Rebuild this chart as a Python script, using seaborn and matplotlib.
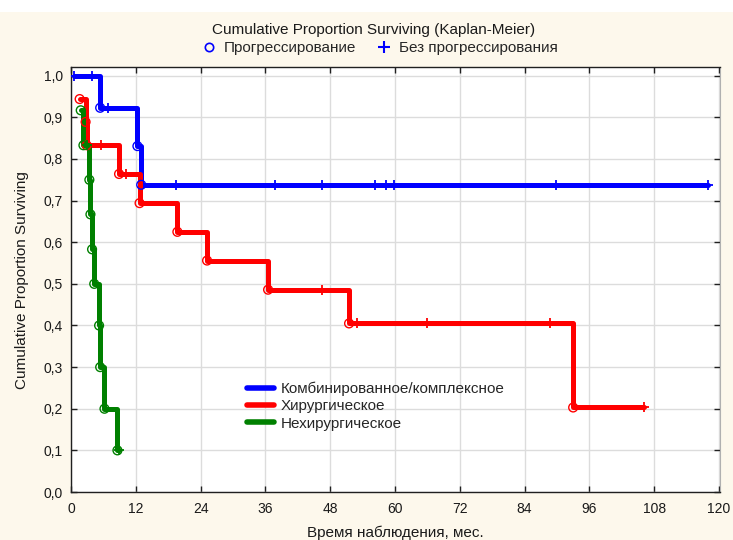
import matplotlib
matplotlib.use("Agg")
import matplotlib.pyplot as plt
import numpy as np
import pandas as pd
import seaborn as sns
from matplotlib.lines import Line2D
from matplotlib.patches import Rectangle
from matplotlib.ticker import FuncFormatter, MultipleLocator

# --------------------------------------------------------------------------
# Data
# --------------------------------------------------------------------------
groups = ["Комбинированное/комплексное", "Хирургическое", "Нехирургическое"]
colors = ["#0000ff", "#ff0000", "#008000"]

# event times (progression) and survival after each event
blue_events = [5.4, 12.3, 13.0]
blue_surv = [0.923, 0.831, 0.738]
blue_cens = [0.5, 3.9, 6.8, 19.5, 37.7, 46.5, 56.3, 58.3, 59.9, 89.8, 117.9]

red_events = [1.6, 2.7, 2.9, 8.9, 12.7, 19.7, 25.2, 36.5, 51.5, 93.0]
red_surv = [0.944, 0.889, 0.833, 0.764, 0.694, 0.625, 0.556, 0.486, 0.405, 0.203]
red_cens = [5.5, 10.1, 46.5, 53.0, 66.0, 88.8, 106.2]

green_events = [1.8, 2.3, 3.4, 3.6, 3.9, 4.3, 5.2, 5.4, 6.2, 8.6]
green_surv = [0.917, 0.833, 0.75, 0.667, 0.583, 0.5, 0.4, 0.3, 0.2, 0.1]
green_cens = [3.0, 8.9]

x_ticks = [0, 12, 24, 36, 48, 60, 72, 84, 96, 108, 120]

title = "Cumulative Proportion Surviving (Kaplan-Meier)"
ylabel = "Cumulative Proportion Surviving"
xlabel = "Время наблюдения, мес."
mark_labels = ["Прогрессирование", "Без прогрессирования"]

series = [
    (groups[0], blue_events, blue_surv, blue_cens),
    (groups[1], red_events, red_surv, red_cens),
    (groups[2], green_events, green_surv, green_cens),
]


def surv_at(t, events, surv):
    idx = np.searchsorted(events, t, side="right") - 1
    return 1.0 if idx < 0 else surv[idx]


steps, evts, cens = [], [], []
for name, ev, sv, cs in series:
    start = min(ev[0], cs[0])
    end = max(ev[-1], cs[-1])
    xs = [start] + ev + [end]
    ys = [surv_at(start, ev, sv)] + sv + [sv[-1]]
    for k, (x, y) in enumerate(zip(xs, ys)):
        steps.append({"group": name, "t": x, "s": y, "order": k})
    for x, y in zip(ev, sv):
        evts.append({"group": name, "t": x, "s": y})
    for x in cs:
        cens.append({"group": name, "t": x, "s": surv_at(x, ev, sv)})

steps_df = pd.DataFrame(steps)
evts_df = pd.DataFrame(evts)
cens_df = pd.DataFrame(cens)
palette = dict(zip(groups, colors))

# --------------------------------------------------------------------------
# Plot
# --------------------------------------------------------------------------
sns.set_style("whitegrid", {"grid.color": "#dcdcdc"})
plt.rcParams["font.family"] = ["Liberation Sans", "DejaVu Sans"]
plt.rcParams["font.size"] = 11
text_col = "#1a1a1a"

fig = plt.figure(figsize=(7.33, 5.40), dpi=100, facecolor="#fdf8ec")
fig.patches.append(Rectangle((0, 1 - 12 / 540), 1, 12 / 540, transform=fig.transFigure,
                             facecolor="white", edgecolor="none", zorder=0))
ax = fig.add_axes([71 / 733, 48 / 540, 649 / 733, 425 / 540])
ax.set_facecolor("white")

for name in groups:
    sub = steps_df[steps_df.group == name]
    sns.lineplot(data=sub, x="t", y="s", color=palette[name], linewidth=3.6,
                 drawstyle="steps-post", estimator=None, sort=False, ax=ax,
                 legend=False, zorder=3)
    e = evts_df[evts_df.group == name]
    sns.scatterplot(data=e, x="t", y="s", marker="o", s=40, facecolor="none",
                    edgecolor=palette[name], linewidth=1.0, ax=ax, legend=False,
                    zorder=4)
    c = cens_df[cens_df.group == name]
    sns.scatterplot(data=c, x="t", y="s", marker="+", s=45, color=palette[name],
                    linewidth=1.3, ax=ax, legend=False, zorder=4)

ax.set_xlim(0, 120.2)
ax.set_ylim(0, 1.021)
ax.set_xticks(x_ticks)
ax.yaxis.set_major_locator(MultipleLocator(0.1))
ax.yaxis.set_major_formatter(FuncFormatter(lambda v, p: f"{v:.1f}".replace(".", ",")))
ax.set_xlabel("")
ax.set_ylabel("")
ax.grid(True, color="#dcdcdc", linewidth=1.0)
ax.tick_params(axis="both", which="major", direction="in", length=4, width=1,
               colors="#202020", labelcolor=text_col, labelsize=10,
               top=True, right=True, bottom=True, left=True)
ax.tick_params(axis="x", pad=7)
ax.tick_params(axis="y", pad=6)
for side in ["left", "bottom", "top"]:
    ax.spines[side].set_color("#202020")
    ax.spines[side].set_linewidth(1.0)
ax.spines["right"].set_color("#b0b0b0")

# legend of groups inside plot
handles = [Line2D([], [], color=c, linewidth=4) for c in colors]
ax.legend(handles, groups, loc="upper left", bbox_to_anchor=(0.271, 0.26),
          frameon=False, fontsize=11, handlelength=1.75, handletextpad=0.45,
          labelspacing=0.22, borderpad=0, borderaxespad=0)

# titles
fig.text(0.51, 1 - 30 / 540, title, ha="center", va="center", fontsize=11,
         color=text_col)
mk = [Line2D([], [], color="#0000ff", marker="o", markerfacecolor="none",
             markersize=6, linestyle="none", markeredgewidth=1.2),
      Line2D([], [], color="#0000ff", marker="+", markersize=8,
             linestyle="none", markeredgewidth=1.5)]
fig.legend(mk, mark_labels, loc="center", bbox_to_anchor=(0.518, 1 - 48 / 540),
           ncol=2, frameon=False, fontsize=11, handlelength=1.0,
           handletextpad=0.5, columnspacing=1.3, borderpad=0)

fig.text(22 / 733, 1 - 280 / 540, ylabel, rotation=90, ha="center", va="center",
         fontsize=11, color=text_col)
fig.text(395 / 733, 1 - 526 / 540, xlabel, ha="center", va="top", fontsize=11,
         color=text_col)

fig.savefig("out.png", dpi=100, facecolor=fig.get_facecolor())
